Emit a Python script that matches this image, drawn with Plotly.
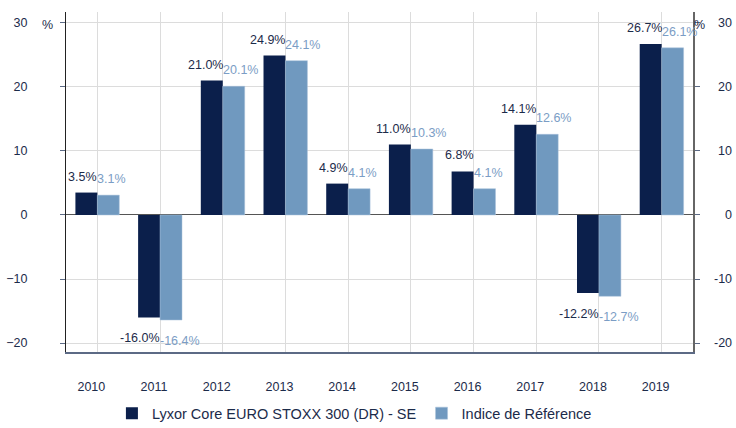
import plotly.graph_objects as go

years = ["2010", "2011", "2012", "2013", "2014", "2015", "2016", "2017", "2018", "2019"]
fund = [3.5, -16.0, 21.0, 24.9, 4.9, 11.0, 6.8, 14.1, -12.2, 26.7]
index_ref = [3.1, -16.4, 20.1, 24.1, 4.1, 10.3, 4.1, 12.6, -12.7, 26.1]
fund_name = "Lyxor Core EURO STOXX 300 (DR) - SE"
index_name = "Indice de Référence"
y_ticks = [-20, -10, 0, 10, 20, 30]

DARK = "#0b1f4b"
LIGHT = "#7099bf"
TEXT = "#1c2b4a"
LIGHT_TEXT = "#7b9dc5"
FONT = "Liberation Sans, Arial, sans-serif"

fig = go.Figure()
fig.add_bar(x=years, y=fund, name=fund_name, marker=dict(color=DARK, line=dict(width=0)))
fig.add_bar(x=years, y=index_ref, name=index_name, marker=dict(color=LIGHT, line=dict(color="#a9c1da", width=0.5)))
# invisible helper trace so that the right-hand axis is drawn
fig.add_scatter(x=years, y=fund, yaxis="y2", mode="markers", marker=dict(opacity=0),
                showlegend=False, hoverinfo="skip")

annotations = []
for i, v in enumerate(fund):
    annotations.append(dict(x=i, y=v, xref="x", yref="y", text=f"{v:.1f}%", showarrow=False,
                            xanchor="right", yanchor="bottom" if v >= 0 else "top",
                            xshift=2, yshift=7 if v >= 0 else -12,
                            font=dict(size=12.5, color=TEXT, family=FONT)))
for i, v in enumerate(index_ref):
    annotations.append(dict(x=i, y=v, xref="x", yref="y", text=f"{v:.1f}%", showarrow=False,
                            xanchor="left", yanchor="bottom" if v >= 0 else "top",
                            xshift=-2, yshift=7 if v >= 0 else -12,
                            font=dict(size=12.5, color=LIGHT_TEXT, family=FONT)))
# right-hand tick labels, right-aligned near the page edge
for t in y_ticks:
    annotations.append(dict(x=(734 - 66) / 627, y=t, xref="paper", yref="y", text=str(t), showarrow=False,
                            xanchor="right", yanchor="middle",
                            font=dict(size=12.5, color=TEXT, family=FONT)))
annotations.append(dict(x=(47 - 66) / 627, y=29.7, xref="paper", yref="y", text="%", showarrow=False,
                        xanchor="center", yanchor="middle", font=dict(size=12.5, color=TEXT, family=FONT)))
annotations.append(dict(x=1.0, y=29.7, xref="paper", yref="y", text="%", showarrow=False,
                        xanchor="left", yanchor="middle", xshift=-1,
                        font=dict(size=12.5, color=TEXT, family=FONT)))

yr_range = [-21.4, 31.7]
fig.update_layout(
    width=736, height=428,
    margin=dict(l=66, r=43, t=12, b=76, autoexpand=False),
    paper_bgcolor="white", plot_bgcolor="white",
    barmode="group", bargap=0.3, bargroupgap=0,
    font=dict(family=FONT, color=TEXT, size=12.5),
    showlegend=True,
    legend=dict(orientation="h", x=0.46, xanchor="center", y=-0.18, yanchor="middle",
                font=dict(size=14.5, color=TEXT), itemwidth=30, traceorder="normal"),
    annotations=annotations,
    xaxis=dict(type="category", range=[-0.5, len(years) - 0.5], automargin=False,
               showgrid=True, gridcolor="#dcdcdc", gridwidth=1,
               showline=True, linecolor="#5c6a85", linewidth=2, ticks="",
               ticklabelstandoff=22, ticklabelshift=-6,
               tickfont=dict(size=12.5, color=TEXT)),
    yaxis=dict(range=yr_range, tickvals=y_ticks, automargin=False,
               showgrid=True, gridcolor="#dcdcdc", gridwidth=1,
               zeroline=True, zerolinecolor="#555555", zerolinewidth=1,
               showline=True, linecolor="#222222", linewidth=1,
               ticks="outside", ticklen=5, tickcolor="#5c6a85",
               ticklabelstandoff=30, tickfont=dict(size=12.5, color=TEXT)),
    yaxis2=dict(range=yr_range, tickvals=y_ticks, overlaying="y", side="right",
                showgrid=False, zeroline=False, showline=True, linecolor="#666666", linewidth=2,
                ticks="outside", ticklen=5, tickcolor="#5c6a85", showticklabels=False),
)

fig.write_html("out.html", config={"displayModeBar": False},
               post_script="document.body.style.margin='0';document.body.style.overflow='hidden';")
